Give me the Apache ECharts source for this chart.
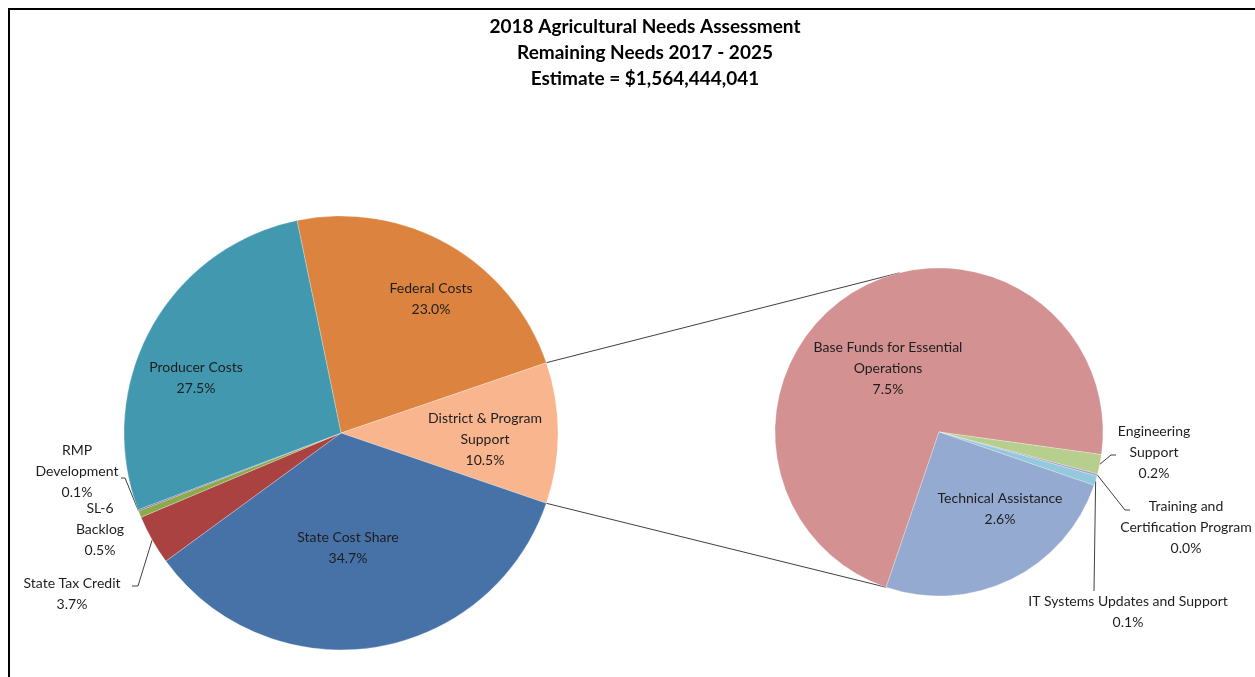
<!DOCTYPE html>
<html>
<head>
<meta charset="utf-8">
<script src="https://cdn.jsdelivr.net/npm/echarts@6/dist/echarts.min.js"></script>
<style>
html, body { margin: 0; padding: 0; background: #fff; }
#main { width: 1255px; height: 677px; }
</style>
</head>
<body>
<div id="main"></div>
<script>
// title lines
var titleLines = ['2018 Agricultural Needs Assessment', 'Remaining Needs 2017 - 2025', 'Estimate = $1,564,444,041'];

// main pie: share of the total estimate (%)
var mainNames = ['Federal Costs', 'District & Program\nSupport', 'State Cost Share', 'State Tax Credit', 'SL-6\nBacklog', 'RMP\nDevelopment', 'Producer Costs'];
var mainValues = [23.0, 10.5, 34.7, 3.7, 0.5, 0.1, 27.5];

// second pie: District & Program Support broken down (% of total)
var subNames = ['Base Funds for Essential\nOperations', 'Engineering\nSupport', 'Training and\nCertification Program', 'IT Systems Updates and Support', 'Technical Assistance'];
var subValues = [7.5, 0.2, 0.02, 0.1, 2.6];

// colours
var mainColors = ['#DC843F', '#F8B58E', '#4672A8', '#A94240', '#8AAA4C', '#7B629F', '#4198AF'];
var subColors = ['#D39191', '#B7CF8C', '#A895BE', '#93C9DC', '#95AAD0'];

// layout
var mainCenter = [341, 433], mainR = 217, mainStart = 101.7;
var subCenter = [939, 432], subR = 164, subStart = 251.2, subTopAngle = 104;
var mainLabelPos = [[431, 299], [485, 439], [348, 548], [72, 594], [100, 529], [77, 471], [196, 378]];
var subLabelPos = [[888, 368], [1154, 452], [1186, 527], [1128, 612], [1000, 509]];
// leader line bend / end points for the outside labels
var mainBends = { 3: [[138, 586], [132, 586]], 5: [[125, 478], [121, 478]] };
var subBends = { 1: [[1111, 455], [1116, 455]], 2: [[1125, 510], [1130, 510]], 3: [[1094, 591], [1094, 591]] };
var mainOutside = [3, 4, 5];
var subOutside = [1, 2, 3];
var noLine = { 0: [4] };

var font = 'Lato';
var textColor = '#1e1e1e';

function fmt(p) {
    return p.name + '\n' + p.value.toFixed(1) + '%';
}

function buildData(names, values, colors, outside, seriesIdx) {
    return names.map(function (n, i) {
        var isOut = outside.indexOf(i) >= 0;
        var hideLine = (noLine[seriesIdx] || []).indexOf(i) >= 0;
        return {
            name: n,
            value: values[i],
            itemStyle: { color: colors[i] },
            label: { position: isOut ? 'outside' : 'inside' },
            labelLine: { show: isOut && !hideLine }
        };
    });
}

function pt(c, r, deg) {
    var a = deg * Math.PI / 180;
    return [c[0] + r * Math.cos(a), c[1] - r * Math.sin(a)];
}

var mainTotal = mainValues.reduce(function (a, b) { return a + b; }, 0);
var distStart = mainStart - mainValues[0] / mainTotal * 360;
var distEnd = distStart - mainValues[1] / mainTotal * 360;
var p1 = pt(mainCenter, mainR, distStart), p2 = pt(subCenter, subR, subTopAngle);
var p3 = pt(mainCenter, mainR, distEnd), p4 = pt(subCenter, subR, subStart);

var labelStyle = {
    show: true,
    formatter: fmt,
    fontFamily: font,
    fontSize: 14,
    lineHeight: 21,
    color: textColor
};

function layout(p) {
    var posArr = p.seriesIndex === 0 ? mainLabelPos : subLabelPos;
    var bends = p.seriesIndex === 0 ? mainBends : subBends;
    var pos = posArr[p.dataIndex];
    var res = { x: pos[0], y: pos[1], align: 'center', verticalAlign: 'middle' };
    var b = bends[p.dataIndex];
    if (b && p.labelLinePoints) {
        res.labelLinePoints = [p.labelLinePoints[0], b[0], b[1]];
    }
    return res;
}

var chart = echarts.init(document.getElementById('main'));
var option = {
    animation: false,
    backgroundColor: '#fff',
    title: {
        text: titleLines.join('\n'),
        left: 640,
        top: 9,
        textAlign: 'center',
        textStyle: {
            fontFamily: font,
            fontSize: 19,
            fontWeight: 'bold',
            lineHeight: 26,
            color: '#000'
        }
    },
    graphic: [
        { type: 'line', shape: { x1: 8, y1: 9, x2: 1255, y2: 9 }, style: { stroke: '#000', lineWidth: 2 } },
        { type: 'line', shape: { x1: 9, y1: 8, x2: 9, y2: 677 }, style: { stroke: '#000', lineWidth: 2 } },
        { type: 'line', shape: { x1: p1[0], y1: p1[1], x2: p2[0], y2: p2[1] }, style: { stroke: '#404040', lineWidth: 1 } },
        { type: 'line', shape: { x1: p3[0], y1: p3[1], x2: p4[0], y2: p4[1] }, style: { stroke: '#404040', lineWidth: 1 } }
    ],
    series: [
        {
            type: 'pie',
            center: mainCenter,
            radius: mainR,
            startAngle: mainStart,
            clockwise: true,
            avoidLabelOverlap: false,
            emphasis: { disabled: true },
            itemStyle: { borderColor: 'rgba(255,255,255,0.5)', borderWidth: 0.5 },
            label: labelStyle,
            labelLine: { lineStyle: { color: '#404040', width: 1 }, length: 10, length2: 5 },
            labelLayout: layout,
            data: buildData(mainNames, mainValues, mainColors, mainOutside, 0)
        },
        {
            type: 'pie',
            center: subCenter,
            radius: subR,
            startAngle: subStart,
            clockwise: true,
            avoidLabelOverlap: false,
            emphasis: { disabled: true },
            itemStyle: { borderColor: 'rgba(255,255,255,0.5)', borderWidth: 0.5 },
            label: labelStyle,
            labelLine: { lineStyle: { color: '#404040', width: 1 }, length: 10, length2: 5 },
            labelLayout: layout,
            data: buildData(subNames, subValues, subColors, subOutside, 1)
        }
    ]
};
chart.setOption(option);
</script>
</body>
</html>
